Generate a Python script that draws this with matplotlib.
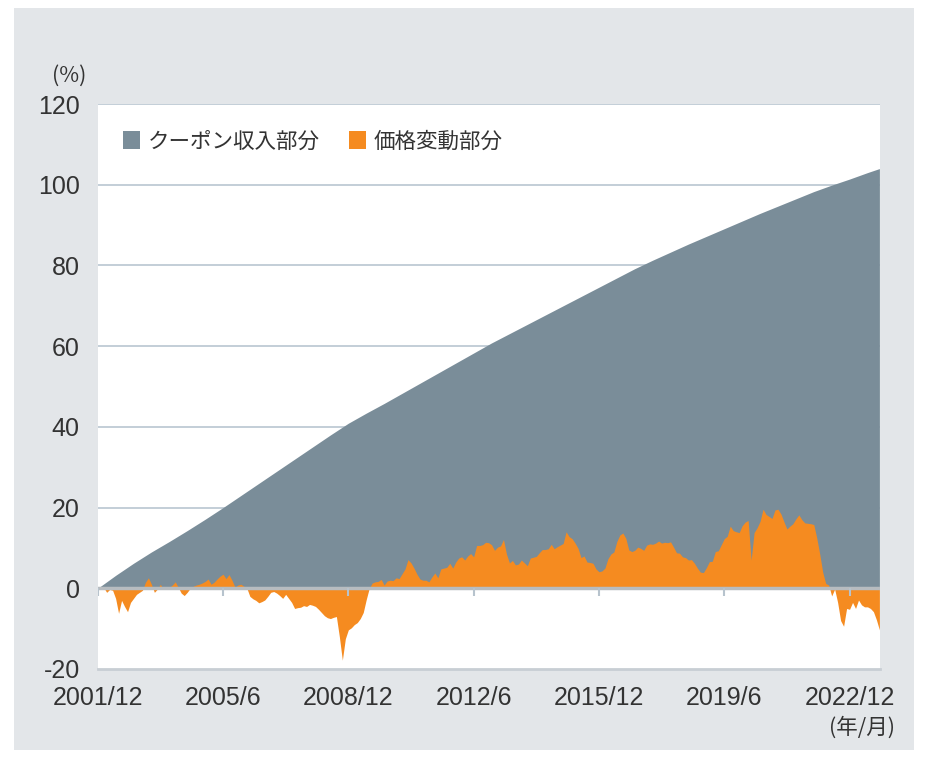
import matplotlib
matplotlib.use("Agg")
import matplotlib.pyplot as plt
from matplotlib.patches import Patch, Rectangle
import numpy as np

# monthly series starting 2001/12 (month 0)
price = [0, 0.3, 0.2, -1.0, -0.3, -0.5, -2.5, -6.2, -3.0, -4.5,
         -5.8, -3.5, -2.5, -1.5, -1.0, -0.5, 1.5, 2.6, 1.0, -1.0,
         -0.2, 1.0, -0.3, -0.3, 0.2, 0.8, 1.6, 0.2, -1.2, -1.8,
         -1.0, 0.0, 0.5, 0.8, 1.0, 1.3, 1.7, 2.3, 1.0, 1.5,
         2.3, 3.0, 3.5, 2.4, 3.4, 2.0, 0.3, 0.8, 1.0, 0.5,
         0.0, -2.0, -2.6, -3.0, -3.6, -3.3, -2.9, -2.0, -1.0, -0.8,
         -1.2, -1.8, -2.5, -1.5, -2.5, -3.5, -5.0, -4.8, -4.7, -4.3,
         -4.5, -4.0, -4.2, -4.5, -5.2, -6.0, -6.8, -7.3, -7.5, -7.2,
         -7.0, -12.0, -17.8, -12.5, -10.3, -9.8, -9.0, -8.5, -7.5, -6.0,
         -2.8, 0.0, 1.3, 1.6, 1.7, 2.2, 0.8, 1.8, 2.0, 1.9,
         2.6, 2.4, 3.6, 4.8, 7.1, 6.3, 5.0, 3.5, 2.3, 2.0,
         2.0, 1.6, 2.8, 3.8, 2.6, 4.8, 5.0, 5.2, 6.2, 5.0,
         6.5, 7.5, 7.8, 7.0, 8.0, 8.6, 7.8, 10.6, 10.6, 10.8,
         11.4, 11.3, 10.8, 9.4, 10.2, 10.5, 12.1, 8.5, 6.3, 6.9,
         5.8, 6.0, 7.0, 6.3, 5.6, 7.5, 7.7, 7.9, 8.8, 9.6,
         9.6, 9.8, 10.9, 9.8, 10.3, 10.7, 11.1, 14.0, 12.8, 12.3,
         11.2, 9.9, 7.6, 8.0, 6.5, 6.4, 6.2, 4.8, 4.1, 4.3,
         5.0, 7.3, 8.5, 9.0, 11.6, 13.2, 13.7, 12.4, 9.5, 9.1,
         9.4, 10.2, 9.9, 9.4, 10.7, 11.0, 10.9, 11.2, 11.7, 11.2,
         11.4, 11.3, 11.5, 10.2, 8.8, 8.7, 7.8, 7.6, 7.0, 7.1,
         6.2, 5.0, 4.0, 3.9, 5.1, 6.6, 6.7, 9.1, 9.3, 10.8,
         12.3, 12.9, 15.4, 14.3, 14.0, 13.8, 15.5, 16.4, 16.8, 7.0,
         13.8, 15.0, 16.6, 19.6, 18.3, 17.8, 17.3, 19.4, 19.6, 18.4,
         16.5, 14.7, 15.4, 16.0, 17.2, 18.2, 17.0, 16.2, 16.1, 16.0,
         15.8, 12.5, 8.5, 4.0, 1.2, 0.8, -1.9, -0.2, -3.5, -8.0,
         -9.4, -5.0, -5.2, -3.5, -5.0, -2.9, -4.1, -4.6, -4.6, -5.0,
         -5.8, -7.8, -10.3]
months = np.arange(len(price))

# coupon part, read every 6 months (last point month 262)
coupon_months = list(range(0, 259, 6)) + [262]
coupon = [0, 3.2, 6.2, 9.0, 11.6, 14.3, 17.1, 20.0, 23.0, 26.0,
          29.0, 32.0, 35.0, 38.0, 40.9, 43.4, 45.8, 48.3, 50.8, 53.3,
          55.8, 58.3, 60.8, 63.1, 65.4, 67.7, 70.0, 72.3, 74.6, 76.9,
          79.2, 81.3, 83.3, 85.3, 87.2, 89.1, 91.0, 92.9, 94.7, 96.5,
          98.3, 99.9, 101.4, 103.0, 104.0]

tick_pos = [0, 42, 84, 126, 168, 210, 252]
tick_labels = ["2001/12", "2005/6", "2008/12", "2012/6", "2015/12", "2019/6", "2022/12"]

gray = "#7a8d99"
orange = "#f58b20"
bg = "#e3e6e9"
txt = "#333333"
cjk = ["Noto Sans CJK JP", "DejaVu Sans"]

fig = plt.figure(figsize=(9.28, 7.58), dpi=100)
fig.patch.set_facecolor("white")
fig.patches.append(Rectangle((14 / 928, 8 / 758), 900 / 928, 742 / 758,
                             transform=fig.transFigure, facecolor=bg,
                             edgecolor="none", zorder=-10))

ax = fig.add_axes([97.7 / 928, (758 - 669) / 758, (880 - 97.7) / 928, 565 / 758])
ax.set_facecolor("white")

ax.fill_between(coupon_months, 0, coupon, color=gray, lw=0, zorder=2)
ax.fill_between(months, 0, price, color=orange, lw=0, zorder=3)

ax.set_xlim(0, 262.2)
ax.set_ylim(-20, 120)
ax.set_yticks(range(-20, 121, 20))
ax.set_yticklabels([str(v) for v in range(-20, 121, 20)],
                   family="Liberation Sans", fontsize=18, color=txt)
for v in range(20, 121, 20):
    ax.axhline(v, color="#b9c6d1", lw=1.2, zorder=1)
ax.axhline(0, color="#b7bcc0", lw=2.5, zorder=4)
ax.vlines(tick_pos, -1.9, 0, color="#b7c3cd", lw=1.5, zorder=4)

ax.set_xticks(tick_pos)
ax.set_xticklabels(tick_labels, family="Liberation Sans", fontsize=18, color=txt)
ax.tick_params(axis="both", length=0)
ax.tick_params(axis="x", pad=12)
ax.tick_params(axis="y", pad=13)

for s in ["top", "left", "right"]:
    ax.spines[s].set_visible(False)
ax.spines["bottom"].set_color("#c8ced4")
ax.spines["bottom"].set_linewidth(2)

fig.text(69 / 928, 1 - 76 / 758, "(%)", family=cjk, fontsize=15.5,
         color=txt, ha="center", va="center")
fig.text(895 / 928, 1 - 728 / 758, "(年/月)", family=cjk, fontsize=15.5,
         color=txt, ha="right", va="center")

handles = [Patch(facecolor=gray, edgecolor="none", label="クーポン収入部分"),
           Patch(facecolor=orange, edgecolor="none", label="価格変動部分")]
ax.legend(handles=handles, loc="upper left", bbox_to_anchor=(0.032, 0.953),
          ncol=2, frameon=False, prop={"family": cjk, "size": 15.5},
          handlelength=0.8, handleheight=0.95, handletextpad=0.35,
          columnspacing=1.35, borderpad=0, borderaxespad=0, labelcolor=txt)

fig.savefig("out.png", dpi=100, facecolor=fig.get_facecolor())
